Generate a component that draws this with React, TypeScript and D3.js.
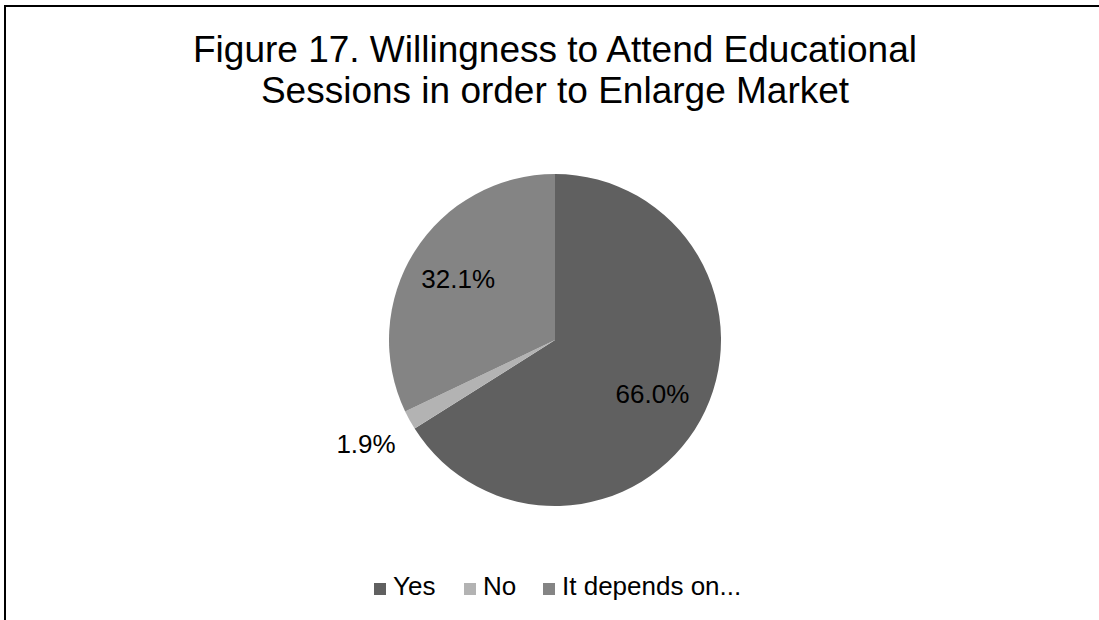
import React from "react";
import * as d3 from "d3";

const categories = ["Yes", "No", "It depends on..."];
const counts = [35, 1, 17];
const labels = ["66.0%", "1.9%", "32.1%"];
const colors = ["#606060", "#b3b3b3", "#848484"];
const titleLines = ["Figure 17. Willingness to Attend Educational", "Sessions in order to Enlarge Market"];

const W = 1099;
const H = 620;
const cx = 555;
const cy = 340;
const R = 166;
const font = "'Liberation Sans', Arial, sans-serif";

export default function App() {
  const pie = d3.pie<number>().sort(null).value((d) => d)(counts);
  const arc = d3.arc<d3.PieArcDatum<number>>().innerRadius(0).outerRadius(R);
  const labelFactor = [0.67, 1.3, 0.69];
  const legendX = [374, 464, 543];
  return (
    <svg width={W} height={H} style={{ position: "absolute", left: 0, top: 0, background: "#fff" }}>
      <rect x={5} y={6} width={W + 20} height={H + 20} fill="#fff" stroke="#000" strokeWidth={2} />
      {titleLines.map((t, i) => (
        <text key={i} x={cx} y={62 + i * 41} textAnchor="middle" fontFamily={font} fontSize={37} fill="#000">
          {t}
        </text>
      ))}
      <g transform={`translate(${cx},${cy})`}>
        {pie.map((p, i) => (
          <path key={i} d={arc(p) || ""} fill={colors[i]} />
        ))}
        {pie.map((p, i) => {
          const a = (p.startAngle + p.endAngle) / 2;
          const r = R * labelFactor[i];
          const x = Math.sin(a) * r;
          const y = -Math.cos(a) * r;
          return (
            <text key={i} x={x} y={y} dy="0.35em" textAnchor="middle" fontFamily={font} fontSize={26} fill="#000">
              {labels[i]}
            </text>
          );
        })}
      </g>
      {categories.map((c, i) => (
        <g key={i}>
          <rect x={legendX[i]} y={583} width={12} height={12} fill={colors[i]} />
          <text x={legendX[i] + 19} y={595} fontFamily={font} fontSize={26} fill="#000">
            {c}
          </text>
        </g>
      ))}
    </svg>
  );
}
